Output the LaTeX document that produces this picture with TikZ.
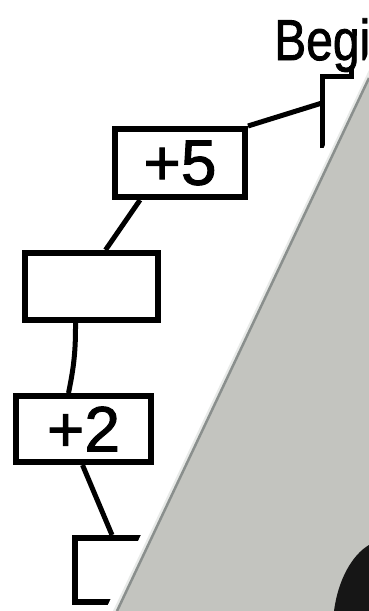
\documentclass[tikz,border=0pt]{standalone}
\usepackage{fontspec}
\setmainfont{Liberation Sans}
\newfontfamily\heavysans[FakeBold=1.6]{Liberation Sans}
\definecolor{sheetgray}{RGB}{195,196,191}
\definecolor{edgegray}{RGB}{138,143,141}
\definecolor{bandgray}{RGB}{232,234,232}
\definecolor{blobblack}{RGB}{22,22,22}
\usetikzlibrary{positioning}

\begin{document}
\begin{tikzpicture}[
  x=1pt, y=-1pt,
  stepbox/.style={draw, line width=6pt, inner sep=0pt,
                  font=\heavysans\fontsize{64}{64}\selectfont},
  link/.style={line width=5pt},
]
\useasboundingbox (0,0) rectangle (369,611);
\clip (0,0) rectangle (369,611);

% --- chain of boxes ---
\node[stepbox, minimum width=130pt, minimum height=68pt] (plusfive) at (180,163) {+5};
\node[stepbox, minimum width=133pt, minimum height=67pt] (blank) at (91.5,286.5) {};
\node[stepbox, minimum width=135pt, minimum height=66pt] (plustwo) at (83.5,429) {+2};
\node[stepbox, minimum width=121pt, minimum height=64pt] (lastbox) at (135,570) {};

% --- heading and its bracket ---
\node[anchor=base west, inner sep=0pt, font=\heavysans\fontsize{48}{48}\selectfont]
  (begin) at (274,60) {\scalebox{1}[1.2]{Begin}};
\coordinate (brkbot) at (322,148);
\coordinate (brktop) at (322,76);
\coordinate (brkend) at (351,66);
\coordinate (brkmid) at (322,103);

\draw[link] (brkbot) -- (brktop) -| (brkend);
\draw[link] (plusfive.north east) -- (brkmid);
\draw[link] ([xshift=-40pt]plusfive.south) -- ([xshift=14pt]blank.north);
\draw[link] ([xshift=-16pt]blank.south) to[bend left=6] ([xshift=-15pt]plustwo.north);
\draw[link] ([xshift=-1pt]plustwo.south) -- ([xshift=-23pt]lastbox.north);

% --- folded sheet over the right side ---
\fill[white] (369,52) -- (105,611) -- (369,611) -- cycle;
\fill[bandgray] (369,70) -- (113,611) -- (369,611) -- cycle;
\fill[sheetgray] (369,78) -- (117,611) -- (369,611) -- cycle;
\draw[edgegray, line width=2.5pt] (369,78) -- (117,611);
\fill[blobblack] (369,545) .. controls (352,555) and (338,580) .. (334,611)
  -- (369,611) -- cycle;
\end{tikzpicture}
\end{document}
